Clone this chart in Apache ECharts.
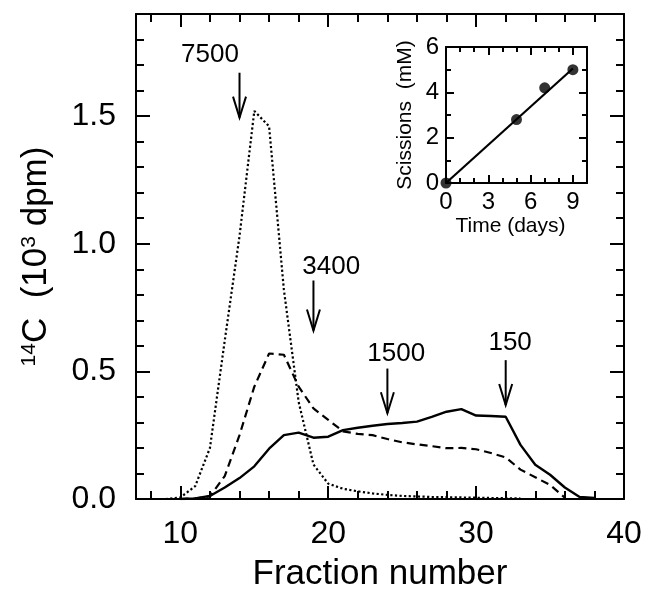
<!DOCTYPE html>
<html>
<head>
<meta charset="utf-8">
<script src="https://cdn.jsdelivr.net/npm/echarts@6/dist/echarts.min.js"></script>
<style>
  html, body { margin: 0; padding: 0; background: #fff; }
  #chart { width: 645px; height: 597px; }
</style>
</head>
<body>
<div id="chart"></div>
<script>
// main plot: 14C per fraction (10^3 dpm)
var dottedFractions = [9, 10, 11, 12, 13, 14, 15, 16, 17, 18, 19, 20, 21, 22, 23, 24, 25, 26, 27, 28, 29, 30, 31, 32, 33];
var dottedValues = [0, 0.006, 0.05, 0.2, 0.62, 1.03, 1.52, 1.46, 0.82, 0.38, 0.135, 0.06, 0.04, 0.03, 0.022, 0.016, 0.012, 0.01, 0.008, 0.007, 0.006, 0.005, 0.004, 0.003, 0.002];

var dashedFractions = [10, 11, 12, 13, 14, 15, 16, 17, 18, 19, 20, 21, 22, 23, 24, 25, 26, 27, 28, 29, 30, 31, 32, 33, 34, 35, 36];
var dashedValues = [0, 0.002, 0.01, 0.09, 0.25, 0.44, 0.57, 0.565, 0.44, 0.355, 0.31, 0.265, 0.255, 0.25, 0.235, 0.222, 0.214, 0.207, 0.199, 0.2, 0.195, 0.18, 0.163, 0.115, 0.085, 0.055, 0.005];

var solidFractions = [10, 11, 12, 13, 14, 15, 16, 17, 18, 19, 20, 21, 22, 23, 24, 25, 26, 27, 28, 29, 30, 31, 32, 33, 34, 35, 36, 37, 38];
var solidValues = [0, 0.002, 0.012, 0.045, 0.082, 0.128, 0.197, 0.25, 0.26, 0.24, 0.244, 0.27, 0.279, 0.287, 0.294, 0.298, 0.303, 0.322, 0.342, 0.352, 0.327, 0.325, 0.322, 0.212, 0.134, 0.095, 0.045, 0.008, 0.004];

// size markers (arrows)
var arrowLabels = ['7500', '3400', '1500', '150'];
var arrowX = [14, 19, 24, 32];
var arrowTop = [1.67, 0.856, 0.511, 0.544];
var arrowTip = [1.494, 0.66, 0.336, 0.368];
var labelX = [12.0, 20.2, 24.6, 32.3];
var labelY = [1.74, 0.908, 0.57, 0.611];

// inset: scissions vs time
var insetDays = [0, 5, 7, 9];
var insetScissions = [0, 2.8, 4.2, 5.0];
var fitDays = [0, 9];
var fitScissions = [0, 5.05];

// ticks
var xLabels = [10, 20, 30, 40];
var xMajorTicks = [10, 20, 30];
var xMinorTicks = [8, 12, 14, 16, 18, 22, 24, 26, 28, 32, 34, 36, 38];
var yLabels = [0, 0.5, 1.0, 1.5];
var yMajorTicks = [0.5, 1.0, 1.5];
var yMinorTicks = [0.1, 0.2, 0.3, 0.4, 0.6, 0.7, 0.8, 0.9, 1.1, 1.2, 1.3, 1.4, 1.6, 1.7, 1.8];
var tLabels = [0, 3, 6, 9];
var tMajorTicks = [3, 6, 9];
var tMinorTicks = [1, 2, 4, 5, 7, 8];
var sLabels = [0, 2, 4, 6];
var sMajorTicks = [2, 4];
var sMinorTicks = [1, 3, 5];

var font = 'Liberation Sans';

function axis(grid, pos, min, max, ticks, len, showLine, labels, labelStyle) {
  var a = {
    type: 'value', gridIndex: grid, position: pos, min: min, max: max,
    axisLine: { show: showLine, onZero: false, lineStyle: { color: '#000', width: 2 } },
    axisTick: { show: true, inside: true, length: len, customValues: ticks, lineStyle: { color: '#000', width: 2 } },
    axisLabel: { show: false },
    splitLine: { show: false }
  };
  if (labels) {
    a.axisLabel = Object.assign({ show: true, customValues: labels, color: '#000', fontFamily: font }, labelStyle);
  }
  return a;
}

function pairs(xs, ys) {
  return xs.map(function (x, i) { return [x, ys[i]]; });
}

var chartDom = document.getElementById('chart');
var myChart = echarts.init(chartDom);

var xMain = axis(0, 'bottom', 7, 40, xMajorTicks, 13, true, xLabels, { fontSize: 32, margin: 19 });
xMain.name = 'Fraction number';
xMain.nameLocation = 'middle';
xMain.nameGap = 58;
xMain.nameTextStyle = { fontSize: 35, fontFamily: font, color: '#000' };

var yMain = axis(0, 'left', 0, 1.9, yMajorTicks, 14, true, yLabels, {
  fontSize: 32, margin: 20,
  formatter: function (v) { return v.toFixed(1); }
});
yMain.name = '{sup|14}{n|C  (10}{sup|3}{n| dpm)}';
yMain.nameLocation = 'middle';
yMain.nameGap = 82;
yMain.nameTextStyle = {
  color: '#000', fontFamily: font,
  rich: {
    n: { fontSize: 35, fontFamily: font, color: '#000' },
    sup: { fontSize: 21, fontFamily: font, color: '#000', verticalAlign: 'top' }
  }
};

var xInset = axis(1, 'bottom', 0, 10, tMajorTicks, 8, true, tLabels, { fontSize: 24, margin: 7 });
xInset.name = 'Time (days)';
xInset.nameLocation = 'middle';
xInset.nameGap = 33;
xInset.nameTextStyle = { fontSize: 21, fontFamily: font, color: '#000', padding: [0, 12, 0, 0] };

var yInset = axis(1, 'left', 0, 6, sMajorTicks, 8, true, sLabels, { fontSize: 24, margin: 7 });
yInset.name = 'Scissions  (mM)';
yInset.nameLocation = 'middle';
yInset.nameGap = 30;
yInset.nameTextStyle = { fontSize: 21, fontFamily: font, color: '#000' };

var option = {
  backgroundColor: '#fff',
  animation: false,
  grid: [
    { left: 136, top: 14, width: 488, height: 487 },
    { left: 446, top: 47, width: 141, height: 136 }
  ],
  xAxis: [
    xMain,
    axis(0, 'bottom', 7, 40, xMinorTicks, 8, false),
    axis(0, 'top', 7, 40, xMajorTicks, 13, true),
    axis(0, 'top', 7, 40, xMinorTicks, 8, false),
    xInset,
    axis(1, 'bottom', 0, 10, tMinorTicks, 5, false),
    axis(1, 'top', 0, 10, tMajorTicks, 8, true),
    axis(1, 'top', 0, 10, tMinorTicks, 5, false)
  ],
  yAxis: [
    yMain,
    axis(0, 'left', 0, 1.9, yMinorTicks, 8, false),
    axis(0, 'right', 0, 1.9, yMajorTicks, 14, true),
    axis(0, 'right', 0, 1.9, yMinorTicks, 8, false),
    yInset,
    axis(1, 'left', 0, 6, sMinorTicks, 5, false),
    axis(1, 'right', 0, 6, sMajorTicks, 8, true),
    axis(1, 'right', 0, 6, sMinorTicks, 5, false)
  ],
  series: [
    {
      name: 'dotted', type: 'line', xAxisIndex: 0, yAxisIndex: 0,
      data: pairs(dottedFractions, dottedValues), showSymbol: false, symbol: 'none',
      lineStyle: { color: '#000', width: 2.2, type: [2.2, 2.4] }
    },
    {
      name: 'dashed', type: 'line', xAxisIndex: 0, yAxisIndex: 0,
      data: pairs(dashedFractions, dashedValues), showSymbol: false, symbol: 'none',
      lineStyle: { color: '#000', width: 2.2, type: [8, 5] }
    },
    {
      name: 'solid', type: 'line', xAxisIndex: 0, yAxisIndex: 0,
      data: pairs(solidFractions, solidValues), showSymbol: false, symbol: 'none',
      lineStyle: { color: '#000', width: 2.4 }
    },
    {
      name: 'markers', type: 'custom', xAxisIndex: 0, yAxisIndex: 0,
      data: arrowX.map(function (x, i) { return [x, arrowTop[i], arrowTip[i], labelX[i], labelY[i]]; }),
      renderItem: function (params, api) {
        var top = api.coord([api.value(0), api.value(1)]);
        var tip = api.coord([api.value(0), api.value(2)]);
        var lab = api.coord([api.value(3), api.value(4)]);
        return {
          type: 'group',
          children: [
            { type: 'line', shape: { x1: top[0], y1: top[1], x2: tip[0], y2: tip[1] }, style: { stroke: '#000', lineWidth: 2 } },
            { type: 'polyline', shape: { points: [[tip[0] - 6.5, tip[1] - 21], [tip[0], tip[1]], [tip[0] + 6.5, tip[1] - 21]] }, style: { stroke: '#000', lineWidth: 2, fill: 'none' } },
            { type: 'text', style: { text: arrowLabels[params.dataIndex], x: lab[0], y: lab[1], align: 'center', verticalAlign: 'middle', fontSize: 26, fontFamily: font, fill: '#000' } }
          ]
        };
      }
    },
    {
      name: 'fit', type: 'line', xAxisIndex: 4, yAxisIndex: 4,
      data: pairs(fitDays, fitScissions), showSymbol: false, symbol: 'none',
      lineStyle: { color: '#000', width: 2.2 }
    },
    {
      name: 'scissions', type: 'scatter', xAxisIndex: 4, yAxisIndex: 4,
      data: pairs(insetDays, insetScissions), symbol: 'circle', symbolSize: 11,
      itemStyle: { color: '#000' }, clip: false
    }
  ]
};

option && myChart.setOption(option);
</script>
</body>
</html>
